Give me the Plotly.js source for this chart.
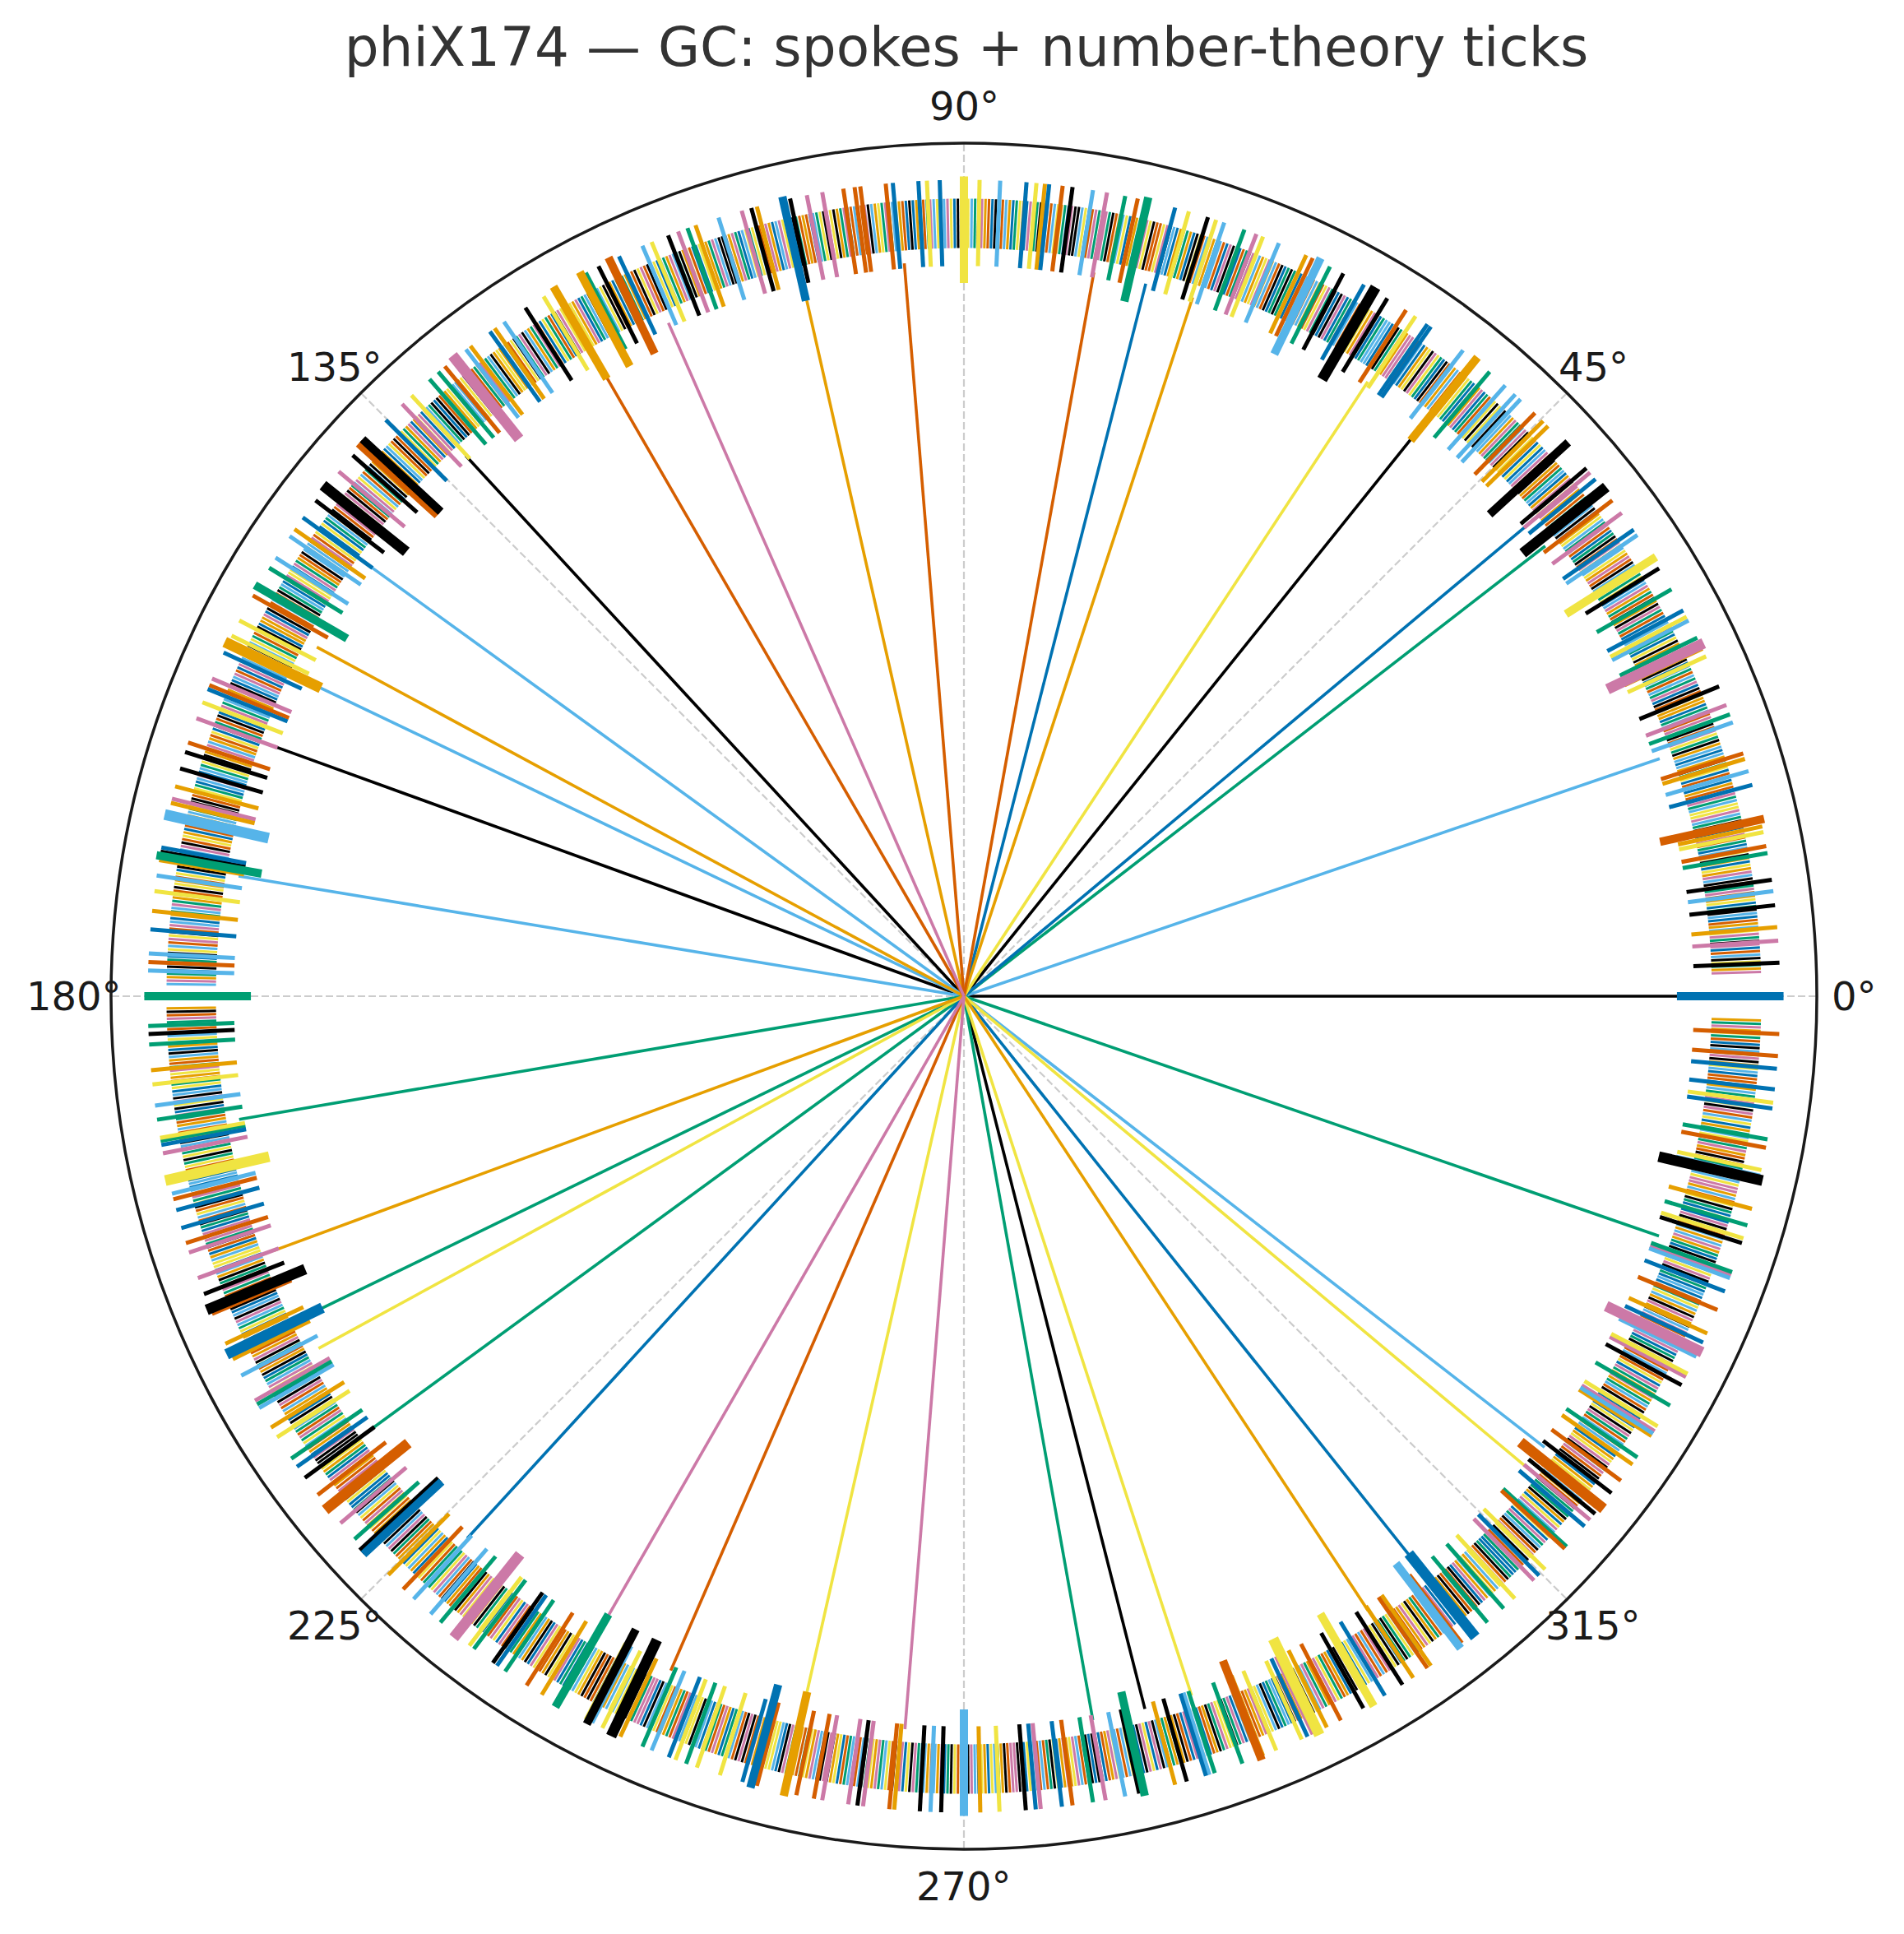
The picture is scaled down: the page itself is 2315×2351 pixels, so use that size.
<!DOCTYPE html>
<html>
<head>
<meta charset="utf-8">
<script src="https://cdn.plot.ly/plotly-3.0.1.min.js"></script>
<style>
html,body{margin:0;padding:0;background:#ffffff;}
#chart{width:2315px;height:2351px;}
</style>
</head>
<body>
<div id="chart"></div>
<script>
// ---------- colour codes (Okabe-Ito) ----------
const PALETTE = {k:'#000000', o:'#E69F00', s:'#56B4E9', g:'#009E73', y:'#F0E442', b:'#0072B2', v:'#D55E00', p:'#CC79A7'};

// ---------- title & angular labels ----------
const chartTitle = 'phiX174 — GC: spokes + number-theory ticks';
const axisDeg = [0, 45, 90, 135, 180, 225, 270, 315];
const axisLabels = ['0°', '45°', '90°', '135°', '180°', '225°', '270°', '315°'];

// ---------- spokes (angle in degrees, colour code) ----------
const spokeDeg = [0, 18.85, 37.75, 39.9, 51.25, 56.68, 71.87, 75.68, 79.82, 94.65,
  102.73, 113.7, 120.0, 132.67, 144.1, 151.66, 154.4, 160.09, 170.6, 189.64,
  200.23, 205.92, 208.62, 216.14, 227.5, 240.14, 246.5, 257.29, 265.4, 280.1,
  284.25, 288.04, 303.34, 308.55, 320.07, 322.16, 340.97];
const spokeCol = 'ksgbkyobvv' + 'opvksosksg' + 'ogygbpvypg' + 'kyobysg';

// ---------- medium ticks ----------
const midDeg = [
  2.35, 3.9, 4.85, 6.4, 7.4, 8.2, 10.1, 10.6, 11.6, 12.0, 15.0, 16.0, 16.9, 17.3, 19.6, 20.2, 20.9, 22.3, 24.6, 25.2,
  26.05, 27.4, 27.7, 28.2, 29.9, 31.6, 34.4, 34.85, 36.3, 37.4, 39.3, 39.9, 40.3, 44.3, 44.8,
  45.6, 47.0, 47.5, 48.45, 49.9, 52.3, 55.1, 55.4, 56.4, 57.2, 58.75, 60.65, 62.3, 63.35, 64.7, 65.2, 67.3, 68.5, 69.0, 69.9,
  71.4, 72.0, 72.6, 74.0, 75.0, 77.7, 78.6, 79.9, 80.9, 82.35, 83.05, 84.0, 84.3, 84.9, 85.6, 87.45, 88.9,
  91.7, 92.6, 93.2, 95.0, 95.5, 97.3, 97.7, 98.5, 100.0, 101.1, 102.3, 104.7, 105.1, 105.8, 107.5, 109.2, 109.8, 110.5, 111.25, 112.5,
  113.2, 115.0, 116.6, 117.6, 121.0, 122.5, 124.3, 125.1, 125.5, 127.2, 127.6, 129.5, 130.1, 130.9, 132.6, 133.5, 135.1,
  138.5, 140.0, 142.6, 144.1, 145.1, 145.7, 147.5, 148.35, 150.6, 152.6, 153.8, 155.1, 157.1, 157.6, 157.9, 158.9, 160.1, 161.9, 162.6, 163.8,
  165.1, 166.0, 166.3, 169.5, 169.8, 170.4, 171.5, 172.6, 174.0, 175.3, 177.0, 177.6, 178.2,
  182.1, 182.65, 183.4, 185.2, 186.2, 187.7, 188.7, 190.0, 190.2, 190.5, 191.1, 194.0, 194.4, 195.2, 196.5, 197.6, 198.3, 200.2, 201.4, 202.9,
  205.2, 206.4, 207.7, 209.7, 210.0, 210.3, 211.9, 212.7, 214.5, 215.2, 216.15, 217.65, 220.2, 221.7, 225.15, 226.6,
  227.6, 229.2, 230.1, 232.7, 233.1, 234.75, 235.1, 235.8, 237.6, 238.85, 242.4, 242.9, 243.7, 245.1, 246.8, 247.5, 248.8, 249.3, 250.1, 250.9,
  252.6, 254.25, 255.3, 258.15, 259.4, 260.0, 261.85, 262.5, 262.9, 264.75, 265.1, 266.9, 267.65, 268.4,
  271.15, 272.5, 274.35, 275.05, 275.4, 276.9, 277.65, 279.1, 280.0, 281.4, 282.4, 285.0, 285.85, 287.25, 287.5, 287.9, 289.95, 291.5, 292.5, 294.45,
  294.9, 295.3, 296.4, 297.5, 299.3, 301.05, 302.5, 303.4, 304.6, 304.9, 307.6, 309.9, 311.4, 312.45, 314.3, 314.8, 315.4, 317.4, 317.6,
  319.5, 320.1, 320.65, 322.5, 323.6, 325.0, 325.6, 327.4, 327.6, 327.8, 328.2, 329.9, 331.55, 332.2, 332.45, 333.8, 334.9, 335.6, 337.4, 338.8,
  339.8, 340.0, 340.25, 342.4, 342.75, 343.7, 344.9, 347.3, 347.7, 349.3, 349.9, 352.1, 352.5, 353.45, 354.9, 355.8, 357.35
];
const midCol =
  'kpokskgvyo' + 'bsovsgpkyo' + 'gsybgksbpv' + 'bpkoo' +
  'vsssgsbbyv' + 'kbkgvosypg' + 'sykybvgpsk' + 'vboybsy' +
  'bybbvvvvpp' + 'kokpsogpky' + 'sbkgyksobo' + 'svggypb' +
  'kpkbossgvy' + 'ybpvbypvkk' + 'opobkosyob' + 'svs' +
  'gkgoysgygb' + 'psvbbvppkv' + 'oospgsoygb' + 'kvpgov' +
  'ssgygkbgvo' + 'ysyogsbygy' + 'ybvvvppkpv' + 'oksk' +
  'oykbpbvgps' + 'kokbsggoyy' + 'bpovkbkovo' + 'vggypbyvg' +
  'bpkkvogosp' + 'ygkpysbovb' + 'spgkygosyv' + 'gbybbvv';

// ---------- long ticks ----------
const longDeg = [12.5, 32.4, 42.5, 51.2, 64.2, 77.0, 90.0, 102.8, 115.7, 117.95,
  120.05, 137.2, 137.6, 149.9, 170.1, 180.0, 222.65, 222.9, 240.1, 242.6,
  254.9, 257.3, 270.0, 282.75, 291.3, 300.0, 307.3, 0.0];
const longCol = 'vykosgybvo' + 'okvgggkbgk' + 'bosgvysb';

// ---------- heavy ticks ----------
const heavyDeg = [25.5, 38.4, 59.85, 128.6, 141.45, 154.4, 167.2, 193.0, 202.5,
  205.9, 218.8, 231.5, 244.5, 295.7, 308.6, 321.3, 334.25, 347.0];
const heavyCol = 'pkkpkosykbvpkybvpk';

// ---------- dense base band: colour of each thin tick, going round from 0° ----------
const baseBand = [
  'gkvosbypogyksvbpkgpysovbskgbyovpgvkspoybokysbgvpvbokgspyysgpkvobpvbygkos',
  'bsokgypvkypvsgbooyvkbpgsvgsbkoyppokybgvssybvgpkokvgopsbygbyskvpoysopvkgb',
  'vpgsyobksbkgvyopykpobsgvokgvpsbybvyokpsggposbkvykysvgbpopbgyokvsosvkbgyp',
  'kyobsvgppovgkybssgbkpoyvyvsogbpkbkgpyvosvosybpgkgbkvsopyosypkgvbykpbvsgo',
  'psvykboggobskpyvvkypgsobbysovkgpogpvbyskkpbgoysvsvkgypboygbosvpkbvopkgsy',
  'ogkbypsvyspgvkobkbvoysgpgyoskpvbsvbpgokypkygsbvovgkobypsbopkvsygysbgpovk',
  'kspgovybbvyokgspogsbypkvpykvsogbgbovkyspvksgbpoysoypkbvgybvpgoskpgkyvbso',
  'yoksgbpvgvbpkyosspyogvkbkgsvbpyobpogysvkvysbokpgokbgvsypsgvkpybopvkosgby',
  'bgyvpksoskvogpbyypobsgkvgsvykbpoobkpvgyskyogsvpbvpsbkyogysgpobkvgkbyvosp',
  'vokpygsbpsbgyovkkygsopbvboyvkpsgsgpkbyvoykvbogpsgobspvkypvsykbgokbgopsyv',
  'sybgokvpgpvksybobksovgpyovgybskpykbpgvosvpoksbgykgyvpobsbsopgykvysvkgbpo',
  'pgkvbosyybsokgvpgvopykbskpsgybovsbyvopkgvokbgspyybgkpvsoobkysgvpgysvobpk',
  'ksyogbpvovpgskybbgksyvpoyvobpgkspkgvosbysobkyvgpgypsvkbovbkopygsokgybsvp',
  'ybpvksgogsokbpyvvokyspbgbpgsyokvkvbgposysyovkbgppbksgyvoogvpbskykysbogvp',
  'obgysvkpkvposbgyysbkpgvovgyopsbkpkoybvgsbvskgyopgsyvkopbykpgbsovsopbgkyv',
  'gvkpsbyobysgokvppkobygsvsvgkybopoypsvgkbkgbvopysvsyogbkpybpksvgogokvbpsy',
  'sbvokgpyykgpbsvovopgyskbgsbkvoypbkyspgovpygvobskokbysgpvsvpoykbgkgysbvop',
  'ykogvspbpbsygokvgvkbposyosypvkgbbgovskypvksgpbyospybokgvgkvosypbyobgkvps',
  'kpyobgsvsvgpkyboobykvsgopogpbyvksvsokgbpygybvpskopkosygvbsbgvkpyoyvkbgops',
  'osvgkpbybgkyvsoppysbokgvkvopgbysgobysvpkypkgsobvvbsyokpgskbvgyopgopkbvsy'
].join('');

// ---------- styling (not data) ----------
const SPOKE_R = 0.862, SPOKE_W = 3.6;
const BASE_R = [0.877, 0.935], BASE_W = 3;
const MID_R = [0.856, 0.957], MID_W = 5;
const LONG_R = [0.836, 0.961], LONG_W = 10;
const HEAVY_R = [0.836, 0.961], HEAVY_W = 13;
const BASE_GAPS = [[-1.6, 1.6], [179.2, 180.8]];

function groupLines(degs, cols, r0, r1) {
  const groups = {};
  for (let i = 0; i < degs.length; i++) {
    const c = cols[i];
    if (!PALETTE[c]) continue;
    if (!groups[c]) groups[c] = {r: [], t: []};
    groups[c].r.push(r0, r1, null);
    groups[c].t.push(degs[i], degs[i], null);
  }
  return groups;
}
function tracesFrom(groups, width) {
  return Object.keys(groups).map(c => ({
    type: 'scatterpolar', mode: 'lines',
    r: groups[c].r, theta: groups[c].t,
    line: {color: PALETTE[c], width: width},
    hoverinfo: 'skip', showlegend: false, connectgaps: false
  }));
}

// base band angles from its position in the ring
const baseDeg = [], baseCol = [];
for (let i = 0; i < baseBand.length; i++) {
  const a = i * 360 / baseBand.length;
  const aa = a > 180.9 ? a - 360 : a;
  let skip = false;
  for (const g of BASE_GAPS) { if (aa >= g[0] && aa <= g[1]) skip = true; }
  if (skip) continue;
  baseDeg.push(a); baseCol.push(baseBand[i]);
}

const traces = [];
traces.push(...tracesFrom(groupLines(spokeDeg, spokeCol, 0, SPOKE_R), SPOKE_W));
traces.push(...tracesFrom(groupLines(baseDeg, baseCol, BASE_R[0], BASE_R[1]), BASE_W));
traces.push(...tracesFrom(groupLines(midDeg, midCol, MID_R[0], MID_R[1]), MID_W));
traces.push(...tracesFrom(groupLines(longDeg, longCol, LONG_R[0], LONG_R[1]), LONG_W));
traces.push(...tracesFrom(groupLines(heavyDeg, heavyCol, HEAVY_R[0], HEAVY_R[1]), HEAVY_W));

// geometry of the polar frame in pixels
const W = 2315, H = 2351;
const CX = 1172, CY = 1211, R = 1037;
const LABEL_R = 1082;

const annotations = axisDeg.map((d, i) => {
  const a = d * Math.PI / 180;
  const px = CX + LABEL_R * Math.cos(a);
  const py = CY - LABEL_R * Math.sin(a);
  return {
    text: axisLabels[i], showarrow: false,
    xref: 'paper', yref: 'paper',
    x: px / W, y: 1 - py / H,
    xanchor: 'center', yanchor: 'middle',
    font: {family: 'DejaVu Sans', size: 48, color: '#1a1a1a'}
  };
});

const layout = {
  width: W, height: H,
  margin: {l: 0, r: 0, t: 0, b: 0, pad: 0},
  paper_bgcolor: '#ffffff',
  showlegend: false,
  title: {
    text: chartTitle,
    font: {family: 'DejaVu Sans', size: 66, color: '#333333'},
    x: 1175 / W, xanchor: 'center', xref: 'paper',
    y: 1 - 57 / H, yanchor: 'middle', yref: 'container'
  },
  polar: {
    domain: {x: [(CX - R) / W, (CX + R) / W], y: [1 - (CY + R) / H, 1 - (CY - R) / H]},
    bgcolor: '#ffffff',
    radialaxis: {visible: false, range: [0, 1], showgrid: false, showline: false, showticklabels: false, ticks: '', layer: 'below traces'},
    angularaxis: {
      rotation: 0, direction: 'counterclockwise',
      tickmode: 'array', tickvals: axisDeg,
      showticklabels: false, ticks: '',
      showgrid: true, gridcolor: '#cccccc', gridwidth: 2.2, griddash: '9px,4px',
      showline: true, linecolor: '#1a1a1a', linewidth: 3.5,
      layer: 'below traces'
    }
  },
  annotations: annotations
};

Plotly.newPlot('chart', traces, layout, {staticPlot: true, displayModeBar: false});
</script>
</body>
</html>
